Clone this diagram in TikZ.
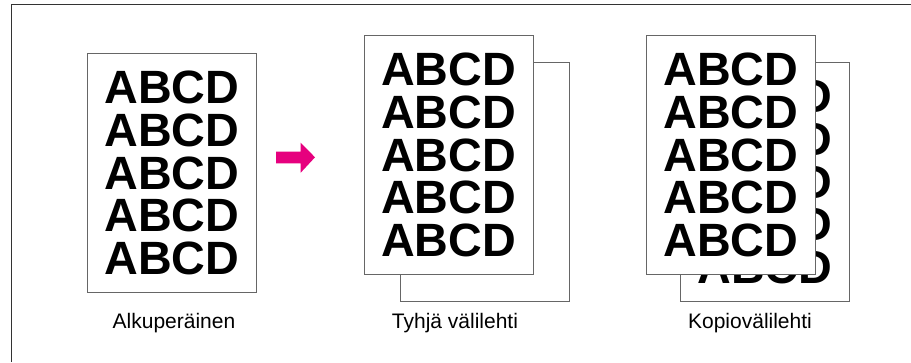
\documentclass[tikz,border=0pt]{standalone}
\usepackage{fontspec}
\setmainfont{Liberation Sans}
\usetikzlibrary{positioning}
\definecolor{arrowpink}{RGB}{230,0,126}
\newcommand{\abcdrows}{ABCD\\ABCD\\ABCD\\ABCD\\ABCD}

\begin{document}
\begin{tikzpicture}[x=1pt, y=-1pt,
    sheet/.style={draw=black!60, line width=0.9pt, fill=white,
                  minimum width=169pt, minimum height=239pt,
                  inner sep=0pt, anchor=north west},
    letters/.style={align=center, font=\fontsize{46.7}{42.9}\selectfont\bfseries},
    caption/.style={anchor=base, font=\fontsize{21}{25}\selectfont}]
  \useasboundingbox (0,0) rectangle (911,362);
  % frame
  \draw[line width=1.4pt, black!80] (911,4.5) -| (11.5,362);

  % original
  \node[sheet, letters] (orig) at (87,53) {\abcdrows};
  \node[caption] (origlabel) at (174,328) {Alkuperäinen};

  \fill[arrowpink] (276,151.7) -- (300.7,151.7) -- (300.7,142.7) -- (315,157.3)
                -- (300.7,172.7) -- (300.7,163.3) -- (276,163.3) -- cycle;

  % blank sheet
  \node[sheet] (blankback) at (400,62) {};
  \node[sheet, letters] (blankfront) at (363.5,35) {\abcdrows};
  \node[caption] (blanklabel) at (455,328) {Tyhjä välilehti};

  % copy sheet
  \node[sheet, letters] (copyback) at (680,62) {\abcdrows};
  \node[sheet, letters] (copyfront) at (646,35) {\abcdrows};
  \node[caption] (copylabel) at (750,328) {Kopiovälilehti};
\end{tikzpicture}
\end{document}
